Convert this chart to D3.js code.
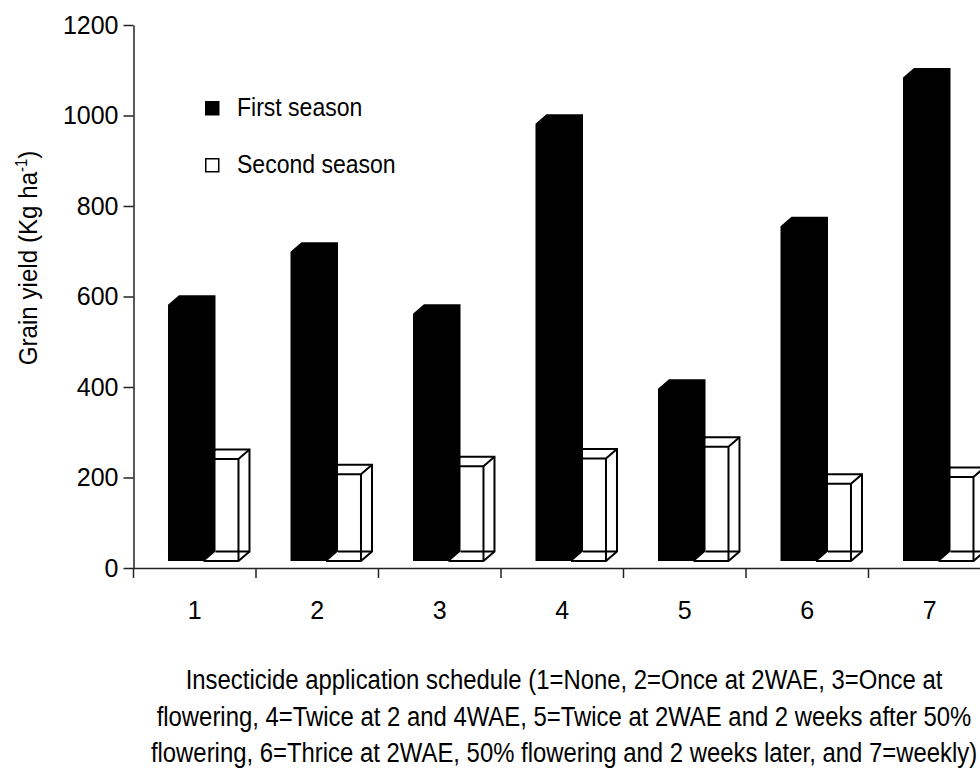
<!DOCTYPE html>
<html>
<head>
<meta charset="utf-8">
<script src="https://cdn.jsdelivr.net/npm/d3@7"></script>
<style>
  body { margin: 0; background: #fff; }
  text { font-family: "Liberation Sans", Arial, sans-serif; fill: #000; }
</style>
</head>
<body>
<div id="app"></div>
<script>
const categories = ["1", "2", "3", "4", "5", "6", "7"];
const firstSeason = [603, 720, 583, 1003, 417, 776, 1105];
const secondSeason = [262, 228, 246, 263, 289, 207, 222];
const yTicks = [0, 200, 400, 600, 800, 1000, 1200];
const seriesNames = ["First season", "Second season"];
const xTitleLines = [
  "Insecticide application schedule (1=None, 2=Once at 2WAE, 3=Once at",
  "flowering, 4=Twice at 2 and 4WAE, 5=Twice at 2WAE and 2 weeks after 50%",
  "flowering, 6=Thrice at 2WAE, 50% flowering and 2 weeks later, and 7=weekly)"
];

const width = 980,
  height = 773,
  margin = { top: 25, left: 133.5, bottom: 568, right: 991 };

// 3D depth of the boxes
const dx = 11, dy = 9.5, floor = 7;
// the source font is a narrow one
const narrow = 0.885;

const xScale = d3.scaleBand().domain(categories).range([margin.left, margin.right]);
const yScale = d3.scaleLinear().domain([0, 1200]).range([margin.bottom, margin.top]);

const bw = xScale.bandwidth();
const blackL = bw * 0.2816, blackR = bw * 0.5796, whiteR = bw * 0.857;

const svg = d3
  .select("#app")
  .append("svg")
  .attr("width", width)
  .attr("height", height);

// box polygon: front face + top + right side
const boxPath = (l, r, top, bot) =>
  `M${l},${bot}V${top}L${l + dx},${top - dy}H${r + dx}V${bot - dy}L${r},${bot}Z`;

const bars = svg.append("g").attr("class", "bars");
const bottom = yScale(0) - floor;

categories.forEach((c, i) => {
  const x0 = xScale(c);
  // second season, white wireframe box
  const wl = x0 + blackR, wr = x0 + whiteR;
  const wt = yScale(secondSeason[i]) + dy;
  const g = bars.append("g")
    .attr("fill", "#fff")
    .attr("stroke", "#000")
    .attr("stroke-width", 2);
  g.append("path").attr("d", boxPath(wl, wr, wt, bottom));
  g.append("path")
    .attr("d", `M${wr},${wt}L${wr + dx},${wt - dy}M${wl},${wt}H${wr}V${bottom}M${wl + dx},${bottom - dy}H${wr + dx}`)
    .attr("fill", "none");

  // first season, solid black box
  const bl = x0 + blackL, br = x0 + blackR;
  const bt = yScale(firstSeason[i]) + dy;
  bars.append("path")
    .attr("d", boxPath(bl, br, bt, bottom))
    .attr("fill", "#000");
});

// y axis
svg.append("g")
  .attr("transform", `translate(${margin.left},0)`)
  .call(d3.axisLeft(yScale).tickValues(yTicks).tickFormat(d3.format("d"))
    .tickSize(10).tickSizeOuter(0).tickPadding(5))
  .call((g) => g.selectAll("text").style("font-size", "25px").attr("font-family", null))
  .call((g) => g.selectAll("line, path").attr("stroke", "#222").attr("stroke-width", 1.5));

// x axis: labels at centres, ticks at band boundaries
const xAxis = svg.append("g")
  .attr("transform", `translate(0,${margin.bottom})`)
  .call(d3.axisBottom(xScale).tickSize(0).tickSizeOuter(0).tickPadding(33))
  .call((g) => g.selectAll("text").style("font-size", "25px").attr("font-family", null))
  .call((g) => g.select(".domain").attr("stroke", "#222").attr("stroke-width", 1.5));

xAxis.selectAll(".bound")
  .data(categories)
  .join("line")
  .attr("class", "bound")
  .attr("x1", (d) => xScale(d))
  .attr("x2", (d) => xScale(d))
  .attr("y1", 0)
  .attr("y2", 10)
  .attr("stroke", "#222")
  .attr("stroke-width", 1.5);

// y title
svg.append("text")
  .attr("transform", "translate(37,258) rotate(-90) scale(0.93,1)")
  .attr("text-anchor", "middle")
  .style("font-size", "26px")
  .text("Grain yield (Kg ha")
  .call((t) => t.append("tspan").attr("dy", -10).style("font-size", "16px").text("-1"))
  .call((t) => t.append("tspan").attr("dy", 10).text(")"));

// x title
svg.append("g")
  .selectAll("text")
  .data(xTitleLines)
  .join("text")
  .attr("transform", (d, i) => `translate(564,${689 + i * 36.5}) scale(${narrow},1)`)
  .attr("text-anchor", "middle")
  .style("font-size", "27px")
  .text((d) => d);

// legend
const legend = svg.append("g").attr("transform", "translate(205,101)");
legend.selectAll("rect")
  .data(seriesNames)
  .join("rect")
  .attr("x", 0.75)
  .attr("y", (d, i) => i * 57 + 0.75)
  .attr("width", 13)
  .attr("height", 13)
  .attr("fill", (d, i) => (i === 0 ? "#000" : "#fff"))
  .attr("stroke", "#000")
  .attr("stroke-width", 1.5);
legend.selectAll("text")
  .data(seriesNames)
  .join("text")
  .attr("transform", (d, i) => `translate(32,${i * 57 + 15}) scale(${narrow},1)`)
  .style("font-size", "26px")
  .text((d) => d);
</script>
</body>
</html>
